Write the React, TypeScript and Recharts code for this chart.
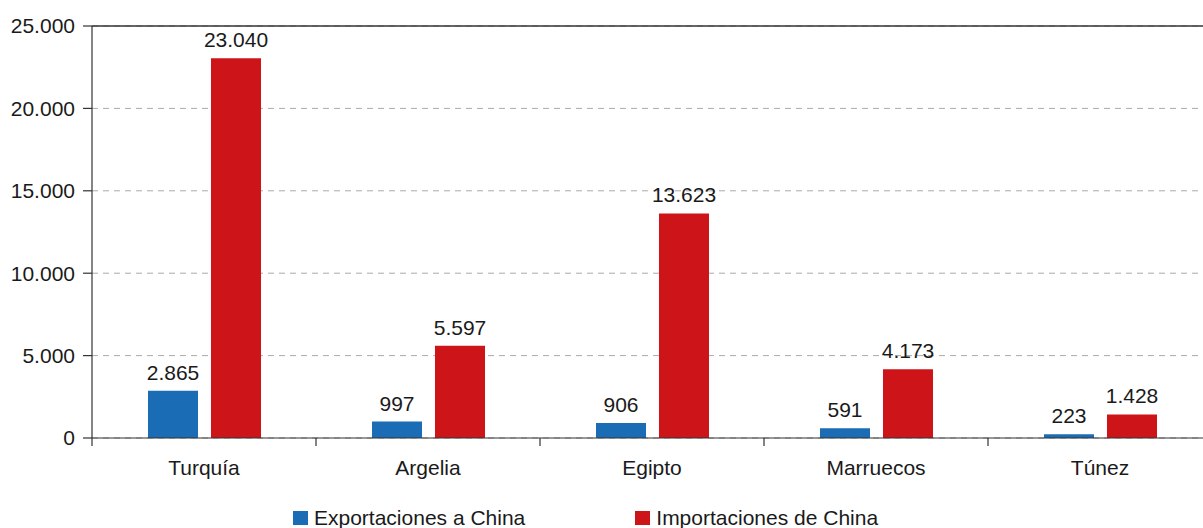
import React from "react";
import { BarChart, Bar, XAxis, YAxis, CartesianGrid, LabelList, ReferenceLine } from "recharts";

const categories = ["Turquía", "Argelia", "Egipto", "Marruecos", "Túnez"];
const exportaciones = [2865, 997, 906, 591, 223];
const importaciones = [23040, 5597, 13623, 4173, 1428];
const yTicks = [0, 5000, 10000, 15000, 20000, 25000];
const seriesNames = ["Exportaciones a China", "Importaciones de China"];
const seriesColors = ["#1a6db5", "#cd1519"];

const data = categories.map((c, i) => ({ name: c, exp: exportaciones[i], imp: importaciones[i] }));

const fmt = (v: number) => String(v).replace(/\B(?=(\d{3})+(?!\d))/g, ".");

const FONT = "'Liberation Sans', Arial, Helvetica, sans-serif";
const VIEW_W = 1203;
const W = 1212;
const H = 528;
const LEFT = 92;
const BAND = (W - LEFT) / categories.length;
const FS = 21;

const XTick = (props: any) => {
  const { x, y, payload, index } = props;
  const half = payload && payload.offset ? payload.offset : BAND / 2;
  const axisY = y - 8;
  return (
    <g>
      <line x1={x - half} x2={x - half} y1={axisY} y2={axisY + 8} stroke="#333" strokeWidth={1.2} />
      {index === categories.length - 1 && (
        <line x1={x + half} x2={x + half} y1={axisY} y2={axisY + 8} stroke="#333" strokeWidth={1.2} />
      )}
      <text x={x} y={axisY + 29} textAnchor="middle" dominantBaseline="central" fontSize={FS} fill="#1a1a1a" fontFamily={FONT}>
        {payload.value}
      </text>
    </g>
  );
};

const LegendBox = () => (
  <div
    style={{
      position: "absolute",
      top: 505,
      left: 293,
      display: "flex",
      gap: 110,
      fontFamily: FONT,
      fontSize: FS,
      lineHeight: "26px",
      color: "#1a1a1a",
      whiteSpace: "nowrap",
    }}
  >
    {seriesNames.map((n, i) => (
      <div key={n} style={{ display: "flex", alignItems: "center" }}>
        <span style={{ display: "inline-block", width: 15, height: 14, background: seriesColors[i], marginRight: 6 }} />
        <span>{n}</span>
      </div>
    ))}
  </div>
);

export default function App() {
  return (
    <div style={{ position: "absolute", left: 0, top: 0, width: VIEW_W, height: H, overflow: "hidden", background: "#fff" }}>
      <BarChart
        width={W}
        height={H}
        data={data}
        margin={{ top: 26, right: 0, left: 0, bottom: 40 }}
        barGap={13}
        barSize={50}
      >
        <CartesianGrid vertical={false} stroke="#aaaaaa" strokeDasharray="6 5" />
        <ReferenceLine y={25000} stroke="#333" strokeWidth={1.5} />
        <XAxis
          dataKey="name"
          height={50}
          axisLine={{ stroke: "#333", strokeWidth: 1.2 }}
          tickLine={false}
          tickSize={8}
          tickMargin={0}
          tick={<XTick />}
          interval={0}
        />
        <YAxis
          width={LEFT}
          domain={[0, 25000]}
          ticks={yTicks}
          tickFormatter={fmt}
          axisLine={{ stroke: "#333", strokeWidth: 1.2 }}
          tickLine={{ stroke: "#333", strokeWidth: 1.2 }}
          tickSize={9}
          tickMargin={8}
          tick={{ fontSize: FS, fill: "#1a1a1a", fontFamily: FONT }}
          interval={0}
        />
        <Bar dataKey="exp" name={seriesNames[0]} fill={seriesColors[0]} isAnimationActive={false}>
          <LabelList dataKey="exp" position="top" offset={11} formatter={(v: any) => fmt(v)} style={{ fontSize: FS, fill: "#1a1a1a", fontFamily: FONT }} />
        </Bar>
        <Bar dataKey="imp" name={seriesNames[1]} fill={seriesColors[1]} isAnimationActive={false}>
          <LabelList dataKey="imp" position="top" offset={11} formatter={(v: any) => fmt(v)} style={{ fontSize: FS, fill: "#1a1a1a", fontFamily: FONT }} />
        </Bar>
      </BarChart>
      <LegendBox />
    </div>
  );
}
